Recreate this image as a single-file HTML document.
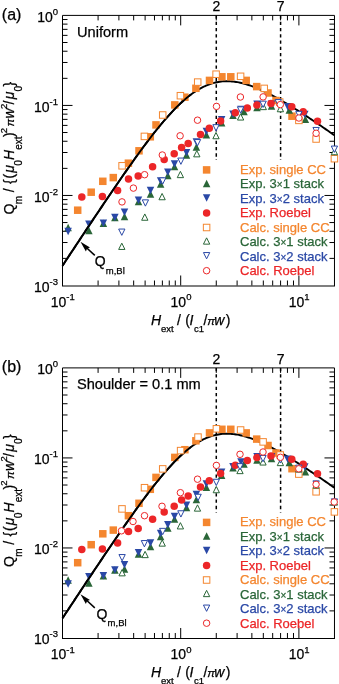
<!DOCTYPE html>
<html><head><meta charset="utf-8"><style>html,body{margin:0;padding:0;background:#fff;width:339px;height:684px;overflow:hidden}svg{display:block;will-change:transform}text{font-family:"Liberation Sans",sans-serif;stroke:currentColor;stroke-width:0.25px}</style></head>
<body><svg width="339" height="684" viewBox="0 0 339 684" font-family="Liberation Sans, sans-serif"><rect width="339" height="684" fill="#fff"/><g transform="translate(0,0)">
<line x1="216.28" y1="15.4" x2="216.28" y2="285.49" stroke="#000" stroke-width="1.5" stroke-dasharray="3.3,2.97"/>
<line x1="280.59" y1="15.4" x2="280.59" y2="285.49" stroke="#000" stroke-width="1.5" stroke-dasharray="3.3,2.97"/>
<rect x="200" y="160" width="134.48" height="125.49" fill="#fff"/>
<path d="M62.5,285.99V15.4H334.48V285.99" fill="none" stroke="#000" stroke-width="1"/>
<path d="M62.0,285.99H334.98" fill="none" stroke="#000" stroke-width="1.2"/>
<path d="M62.5,258.39h5M334.48,258.39h-5M62.5,242.53h5M334.48,242.53h-5M62.5,231.29h5M334.48,231.29h-5M62.5,222.56h5M334.48,222.56h-5M62.5,215.43h5M334.48,215.43h-5M62.5,209.41h5M334.48,209.41h-5M62.5,204.18h5M334.48,204.18h-5M62.5,199.58h5M334.48,199.58h-5M62.5,195.46h10M334.48,195.46h-10M62.5,168.36h5M334.48,168.36h-5M62.5,152.50h5M334.48,152.50h-5M62.5,141.26h5M334.48,141.26h-5M62.5,132.53h5M334.48,132.53h-5M62.5,125.40h5M334.48,125.40h-5M62.5,119.38h5M334.48,119.38h-5M62.5,114.15h5M334.48,114.15h-5M62.5,109.55h5M334.48,109.55h-5M62.5,105.43h10M334.48,105.43h-10M62.5,78.33h5M334.48,78.33h-5M62.5,62.47h5M334.48,62.47h-5M62.5,51.23h5M334.48,51.23h-5M62.5,42.50h5M334.48,42.50h-5M62.5,35.37h5M334.48,35.37h-5M62.5,29.35h5M334.48,29.35h-5M62.5,24.12h5M334.48,24.12h-5M62.5,19.52h5M334.48,19.52h-5M98.08,285.49v-5M98.08,15.4v5M118.90,285.49v-5M118.90,15.4v5M133.66,285.49v-5M133.66,15.4v5M145.12,285.49v-5M145.12,15.4v5M154.48,285.49v-5M154.48,15.4v5M162.39,285.49v-5M162.39,15.4v5M169.25,285.49v-5M169.25,15.4v5M175.29,285.49v-5M175.29,15.4v5M180.70,285.49v-10M180.70,15.4v10M216.28,285.49v-5M216.28,15.4v5M237.10,285.49v-5M237.10,15.4v5M251.86,285.49v-5M251.86,15.4v5M263.32,285.49v-5M263.32,15.4v5M272.68,285.49v-5M272.68,15.4v5M280.59,285.49v-5M280.59,15.4v5M287.45,285.49v-5M287.45,15.4v5M293.49,285.49v-5M293.49,15.4v5M298.90,285.49v-10M298.90,15.4v10" stroke="#000" stroke-width="1" fill="none"/>
<polyline points="62.50,265.73 63.87,263.65 65.23,261.58 66.60,259.51 67.97,257.45 69.33,255.38 70.70,253.31 72.07,251.24 73.43,249.18 74.80,247.11 76.17,245.05 77.53,242.99 78.90,240.93 80.27,238.87 81.63,236.81 83.00,234.75 84.37,232.69 85.73,230.64 87.10,228.58 88.47,226.53 89.83,224.48 91.20,222.43 92.57,220.38 93.94,218.34 95.30,216.29 96.67,214.25 98.04,212.21 99.40,210.17 100.77,208.14 102.14,206.11 103.50,204.08 104.87,202.05 106.24,200.03 107.60,198.01 108.97,195.99 110.34,193.97 111.70,191.96 113.07,189.96 114.44,187.96 115.80,185.96 117.17,183.96 118.54,181.97 119.90,179.99 121.27,178.01 122.64,176.04 124.00,174.07 125.37,172.11 126.74,170.15 128.10,168.20 129.47,166.26 130.84,164.33 132.20,162.40 133.57,160.48 134.94,158.57 136.30,156.67 137.67,154.77 139.04,152.89 140.40,151.02 141.77,149.16 143.14,147.30 144.50,145.46 145.87,143.64 147.24,141.82 148.60,140.02 149.97,138.23 151.34,136.46 152.71,134.70 154.07,132.96 155.44,131.23 156.81,129.52 158.17,127.83 159.54,126.16 160.91,124.50 162.27,122.87 163.64,121.25 165.01,119.66 166.37,118.09 167.74,116.54 169.11,115.02 170.47,113.52 171.84,112.05 173.21,110.60 174.57,109.18 175.94,107.79 177.31,106.42 178.67,105.09 180.04,103.78 181.41,102.51 182.77,101.27 184.14,100.06 185.51,98.88 186.87,97.74 188.24,96.63 189.61,95.56 190.97,94.53 192.34,93.53 193.71,92.56 195.07,91.64 196.44,90.75 197.81,89.91 199.17,89.10 200.54,88.33 201.91,87.60 203.27,86.91 204.64,86.26 206.01,85.65 207.37,85.08 208.74,84.55 210.11,84.06 211.47,83.61 212.84,83.20 214.21,82.83 215.58,82.50 216.94,82.21 218.31,81.95 219.68,81.74 221.04,81.56 222.41,81.42 223.78,81.32 225.14,81.26 226.51,81.23 227.88,81.23 229.24,81.27 230.61,81.34 231.98,81.45 233.34,81.59 234.71,81.76 236.08,81.96 237.44,82.18 238.81,82.44 240.18,82.73 241.54,83.04 242.91,83.38 244.28,83.74 245.64,84.13 247.01,84.55 248.38,84.98 249.74,85.44 251.11,85.92 252.48,86.42 253.84,86.94 255.21,87.48 256.58,88.03 257.94,88.61 259.31,89.20 260.68,89.80 262.04,90.42 263.41,91.06 264.78,91.71 266.14,92.38 267.51,93.06 268.88,93.75 270.24,94.45 271.61,95.16 272.98,95.89 274.35,96.63 275.71,97.37 277.08,98.13 278.45,98.89 279.81,99.67 281.18,100.45 282.55,101.24 283.91,102.04 285.28,102.85 286.65,103.67 288.01,104.49 289.38,105.32 290.75,106.15 292.11,106.99 293.48,107.84 294.85,108.70 296.21,109.56 297.58,110.42 298.95,111.29 300.31,112.17 301.68,113.05 303.05,113.94 304.41,114.83 305.78,115.72 307.15,116.62 308.51,117.53 309.88,118.43 311.25,119.35 312.61,120.26 313.98,121.18 315.35,122.10 316.71,123.03 318.08,123.96 319.45,124.89 320.81,125.83 322.18,126.77 323.55,127.71 324.91,128.65 326.28,129.60 327.65,130.55 329.01,131.50 330.38,132.46 331.75,133.42 333.12,134.38 334.48,135.34" fill="none" stroke="#000" stroke-width="1.9"/>
<rect x="73.95" y="206.45" width="7.5" height="7.5" fill="#f4862f"/>
<rect x="87.45" y="188.45" width="7.5" height="7.5" fill="#f4862f"/>
<rect x="99.05" y="177.55" width="7.5" height="7.5" fill="#f4862f"/>
<rect x="109.55" y="173.85" width="7.5" height="7.5" fill="#f4862f"/>
<rect x="124.65" y="159.45" width="7.5" height="7.5" fill="#f4862f"/>
<rect x="135.25" y="147.05" width="7.5" height="7.5" fill="#f4862f"/>
<rect x="146.55" y="133.05" width="7.5" height="7.5" fill="#f4862f"/>
<rect x="152.25" y="121.15" width="7.5" height="7.5" fill="#f4862f"/>
<rect x="171.05" y="101.15" width="7.5" height="7.5" fill="#f4862f"/>
<rect x="181.15" y="93.45" width="7.5" height="7.5" fill="#f4862f"/>
<rect x="192.15" y="84.55" width="7.5" height="7.5" fill="#f4862f"/>
<rect x="205.75" y="76.65" width="7.5" height="7.5" fill="#f4862f"/>
<rect x="218.15" y="73.05" width="7.5" height="7.5" fill="#f4862f"/>
<rect x="227.05" y="73.05" width="7.5" height="7.5" fill="#f4862f"/>
<rect x="242.45" y="76.65" width="7.5" height="7.5" fill="#f4862f"/>
<rect x="252.95" y="82.85" width="7.5" height="7.5" fill="#f4862f"/>
<rect x="264.25" y="89.25" width="7.5" height="7.5" fill="#f4862f"/>
<rect x="272.25" y="96.75" width="7.5" height="7.5" fill="#f4862f"/>
<rect x="288.25" y="112.45" width="7.5" height="7.5" fill="#f4862f"/>
<path d="M68.10,223.75L71.85,231.25L64.35,231.25Z" fill="#2a6638"/>
<path d="M88.90,226.75L92.65,234.25L85.15,234.25Z" fill="#2a6638"/>
<path d="M103.40,219.45L107.15,226.95L99.65,226.95Z" fill="#2a6638"/>
<path d="M114.90,213.75L118.65,221.25L111.15,221.25Z" fill="#2a6638"/>
<path d="M124.50,212.75L128.25,220.25L120.75,220.25Z" fill="#2a6638"/>
<path d="M138.50,197.75L142.25,205.25L134.75,205.25Z" fill="#2a6638"/>
<path d="M150.50,190.25L154.25,197.75L146.75,197.75Z" fill="#2a6638"/>
<path d="M160.60,180.25L164.35,187.75L156.85,187.75Z" fill="#2a6638"/>
<path d="M167.80,171.75L171.55,179.25L164.05,179.25Z" fill="#2a6638"/>
<path d="M174.50,162.75L178.25,170.25L170.75,170.25Z" fill="#2a6638"/>
<path d="M186.50,151.25L190.25,158.75L182.75,158.75Z" fill="#2a6638"/>
<path d="M196.40,143.25L200.15,150.75L192.65,150.75Z" fill="#2a6638"/>
<path d="M206.40,131.05L210.15,138.55L202.65,138.55Z" fill="#2a6638"/>
<path d="M221.60,119.05L225.35,126.55L217.85,126.55Z" fill="#2a6638"/>
<path d="M233.00,111.55L236.75,119.05L229.25,119.05Z" fill="#2a6638"/>
<path d="M244.00,107.75L247.75,115.25L240.25,115.25Z" fill="#2a6638"/>
<path d="M257.00,103.75L260.75,111.25L253.25,111.25Z" fill="#2a6638"/>
<path d="M271.50,102.25L275.25,109.75L267.75,109.75Z" fill="#2a6638"/>
<path d="M289.30,106.25L293.05,113.75L285.55,113.75Z" fill="#2a6638"/>
<path d="M305.40,115.45L309.15,122.95L301.65,122.95Z" fill="#2a6638"/>
<path d="M68.10,235.25L71.85,227.75L64.35,227.75Z" fill="#2a48a6"/>
<path d="M88.90,227.95L92.65,220.45L85.15,220.45Z" fill="#2a48a6"/>
<path d="M103.40,226.95L107.15,219.45L99.65,219.45Z" fill="#2a48a6"/>
<path d="M114.90,221.25L118.65,213.75L111.15,213.75Z" fill="#2a48a6"/>
<path d="M124.50,216.05L128.25,208.55L120.75,208.55Z" fill="#2a48a6"/>
<path d="M138.50,204.05L142.25,196.55L134.75,196.55Z" fill="#2a48a6"/>
<path d="M150.50,194.25L154.25,186.75L146.75,186.75Z" fill="#2a48a6"/>
<path d="M160.60,184.75L164.35,177.25L156.85,177.25Z" fill="#2a48a6"/>
<path d="M167.80,176.05L171.55,168.55L164.05,168.55Z" fill="#2a48a6"/>
<path d="M174.50,167.75L178.25,160.25L170.75,160.25Z" fill="#2a48a6"/>
<path d="M186.50,156.55L190.25,149.05L182.75,149.05Z" fill="#2a48a6"/>
<path d="M196.40,145.75L200.15,138.25L192.65,138.25Z" fill="#2a48a6"/>
<path d="M206.40,135.25L210.15,127.75L202.65,127.75Z" fill="#2a48a6"/>
<path d="M221.60,123.55L225.35,116.05L217.85,116.05Z" fill="#2a48a6"/>
<path d="M233.00,117.95L236.75,110.45L229.25,110.45Z" fill="#2a48a6"/>
<path d="M241.00,113.25L244.75,105.75L237.25,105.75Z" fill="#2a48a6"/>
<path d="M257.00,108.05L260.75,100.55L253.25,100.55Z" fill="#2a48a6"/>
<path d="M271.50,108.05L275.25,100.55L267.75,100.55Z" fill="#2a48a6"/>
<path d="M287.70,110.55L291.45,103.05L283.95,103.05Z" fill="#2a48a6"/>
<path d="M304.80,118.25L308.55,110.75L301.05,110.75Z" fill="#2a48a6"/>
<circle cx="81.80" cy="197.10" r="3.75" fill="#ec2628"/>
<circle cx="102.40" cy="196.50" r="3.75" fill="#ec2628"/>
<circle cx="117.60" cy="190.60" r="3.75" fill="#ec2628"/>
<circle cx="128.50" cy="179.10" r="3.75" fill="#ec2628"/>
<circle cx="138.20" cy="176.00" r="3.75" fill="#ec2628"/>
<circle cx="152.60" cy="166.70" r="3.75" fill="#ec2628"/>
<circle cx="164.20" cy="159.60" r="3.75" fill="#ec2628"/>
<circle cx="174.20" cy="153.80" r="3.75" fill="#ec2628"/>
<circle cx="181.60" cy="147.40" r="3.75" fill="#ec2628"/>
<circle cx="188.20" cy="143.40" r="3.75" fill="#ec2628"/>
<circle cx="200.50" cy="134.50" r="3.75" fill="#ec2628"/>
<circle cx="209.30" cy="128.30" r="3.75" fill="#ec2628"/>
<circle cx="220.60" cy="120.90" r="3.75" fill="#ec2628"/>
<circle cx="235.30" cy="112.80" r="3.75" fill="#ec2628"/>
<circle cx="247.30" cy="107.90" r="3.75" fill="#ec2628"/>
<circle cx="256.90" cy="105.10" r="3.75" fill="#ec2628"/>
<circle cx="271.00" cy="103.40" r="3.75" fill="#ec2628"/>
<circle cx="291.80" cy="106.70" r="3.75" fill="#ec2628"/>
<circle cx="303.20" cy="111.80" r="3.75" fill="#ec2628"/>
<circle cx="317.50" cy="121.30" r="3.75" fill="#ec2628"/>
<polyline points="62.50,265.73 63.87,263.65 65.23,261.58 66.60,259.51 67.97,257.45 69.33,255.38 70.70,253.31 72.07,251.24 73.43,249.18 74.80,247.11 76.17,245.05 77.53,242.99 78.90,240.93 80.27,238.87 81.63,236.81 83.00,234.75 84.37,232.69 85.73,230.64 87.10,228.58 88.47,226.53 89.83,224.48 91.20,222.43 92.57,220.38 93.94,218.34 95.30,216.29 96.67,214.25 98.04,212.21 99.40,210.17 100.77,208.14 102.14,206.11 103.50,204.08 104.87,202.05 106.24,200.03 107.60,198.01 108.97,195.99 110.34,193.97 111.70,191.96 113.07,189.96 114.44,187.96 115.80,185.96 117.17,183.96 118.54,181.97 119.90,179.99 121.27,178.01 122.64,176.04 124.00,174.07 125.37,172.11 126.74,170.15 128.10,168.20 129.47,166.26 130.84,164.33 132.20,162.40 133.57,160.48 134.94,158.57 136.30,156.67 137.67,154.77 139.04,152.89 140.40,151.02 141.77,149.16 143.14,147.30 144.50,145.46 145.87,143.64 147.24,141.82 148.60,140.02 149.97,138.23 151.34,136.46 152.71,134.70 154.07,132.96 155.44,131.23 156.81,129.52 158.17,127.83 159.54,126.16 160.91,124.50 162.27,122.87 163.64,121.25 165.01,119.66 166.37,118.09 167.74,116.54 169.11,115.02 170.47,113.52 171.84,112.05 173.21,110.60 174.57,109.18 175.94,107.79 177.31,106.42 178.67,105.09 180.04,103.78 181.41,102.51 182.77,101.27 184.14,100.06 185.51,98.88 186.87,97.74 188.24,96.63 189.61,95.56 190.97,94.53" fill="none" stroke="#000" stroke-width="1.9"/>
<rect x="118.85" y="162.55" width="6.5" height="6.5" fill="#fff" stroke="#f4862f" stroke-width="1"/>
<rect x="141.15" y="133.15" width="6.5" height="6.5" fill="#fff" stroke="#f4862f" stroke-width="1"/>
<rect x="159.45" y="111.75" width="6.5" height="6.5" fill="#fff" stroke="#f4862f" stroke-width="1"/>
<rect x="177.15" y="92.45" width="6.5" height="6.5" fill="#fff" stroke="#f4862f" stroke-width="1"/>
<rect x="194.45" y="78.85" width="6.5" height="6.5" fill="#fff" stroke="#f4862f" stroke-width="1"/>
<rect x="212.85" y="70.95" width="6.5" height="6.5" fill="#fff" stroke="#f4862f" stroke-width="1"/>
<rect x="237.35" y="73.05" width="6.5" height="6.5" fill="#fff" stroke="#f4862f" stroke-width="1"/>
<rect x="260.95" y="85.15" width="6.5" height="6.5" fill="#fff" stroke="#f4862f" stroke-width="1"/>
<rect x="276.45" y="98.85" width="6.5" height="6.5" fill="#fff" stroke="#f4862f" stroke-width="1"/>
<rect x="295.65" y="117.15" width="6.5" height="6.5" fill="#fff" stroke="#f4862f" stroke-width="1"/>
<rect x="312.85" y="135.75" width="6.5" height="6.5" fill="#fff" stroke="#f4862f" stroke-width="1"/>
<rect x="331.15" y="155.45" width="6.5" height="6.5" fill="#fff" stroke="#f4862f" stroke-width="1"/>
<path d="M121.80,243.15L124.95,249.45L118.65,249.45Z" fill="#fff" stroke="#2a6638" stroke-width="1"/>
<path d="M144.80,213.95L147.95,220.25L141.65,220.25Z" fill="#fff" stroke="#2a6638" stroke-width="1"/>
<path d="M162.10,193.45L165.25,199.75L158.95,199.75Z" fill="#fff" stroke="#2a6638" stroke-width="1"/>
<path d="M180.40,171.35L183.55,177.65L177.25,177.65Z" fill="#fff" stroke="#2a6638" stroke-width="1"/>
<path d="M196.80,150.55L199.95,156.85L193.65,156.85Z" fill="#fff" stroke="#2a6638" stroke-width="1"/>
<path d="M216.00,132.45L219.15,138.75L212.85,138.75Z" fill="#fff" stroke="#2a6638" stroke-width="1"/>
<path d="M240.60,113.75L243.75,120.05L237.45,120.05Z" fill="#fff" stroke="#2a6638" stroke-width="1"/>
<path d="M263.30,103.35L266.45,109.65L260.15,109.65Z" fill="#fff" stroke="#2a6638" stroke-width="1"/>
<path d="M280.40,105.45L283.55,111.75L277.25,111.75Z" fill="#fff" stroke="#2a6638" stroke-width="1"/>
<path d="M334.40,148.45L337.55,154.75L331.25,154.75Z" fill="#fff" stroke="#2a6638" stroke-width="1"/>
<path d="M121.80,235.35L124.95,229.05L118.65,229.05Z" fill="#fff" stroke="#2a48a6" stroke-width="1"/>
<path d="M145.40,206.15L148.55,199.85L142.25,199.85Z" fill="#fff" stroke="#2a48a6" stroke-width="1"/>
<path d="M162.70,184.15L165.85,177.85L159.55,177.85Z" fill="#fff" stroke="#2a48a6" stroke-width="1"/>
<path d="M180.90,164.35L184.05,158.05L177.75,158.05Z" fill="#fff" stroke="#2a48a6" stroke-width="1"/>
<path d="M197.50,145.85L200.65,139.55L194.35,139.55Z" fill="#fff" stroke="#2a48a6" stroke-width="1"/>
<path d="M216.00,130.95L219.15,124.65L212.85,124.65Z" fill="#fff" stroke="#2a48a6" stroke-width="1"/>
<path d="M240.60,113.15L243.75,106.85L237.45,106.85Z" fill="#fff" stroke="#2a48a6" stroke-width="1"/>
<path d="M263.10,107.45L266.25,101.15L259.95,101.15Z" fill="#fff" stroke="#2a48a6" stroke-width="1"/>
<path d="M278.30,105.85L281.45,99.55L275.15,99.55Z" fill="#fff" stroke="#2a48a6" stroke-width="1"/>
<path d="M298.90,117.65L302.05,111.35L295.75,111.35Z" fill="#fff" stroke="#2a48a6" stroke-width="1"/>
<path d="M316.10,133.75L319.25,127.45L312.95,127.45Z" fill="#fff" stroke="#2a48a6" stroke-width="1"/>
<path d="M334.40,152.35L337.55,146.05L331.25,146.05Z" fill="#fff" stroke="#2a48a6" stroke-width="1"/>
<circle cx="122.00" cy="201.90" r="3.25" fill="#fff" stroke="#ec2628" stroke-width="1"/>
<circle cx="133.40" cy="188.10" r="3.25" fill="#fff" stroke="#ec2628" stroke-width="1"/>
<circle cx="144.60" cy="174.70" r="3.25" fill="#fff" stroke="#ec2628" stroke-width="1"/>
<circle cx="162.30" cy="155.00" r="3.25" fill="#fff" stroke="#ec2628" stroke-width="1"/>
<circle cx="180.10" cy="135.80" r="3.25" fill="#fff" stroke="#ec2628" stroke-width="1"/>
<circle cx="197.50" cy="120.20" r="3.25" fill="#fff" stroke="#ec2628" stroke-width="1"/>
<circle cx="216.50" cy="106.40" r="3.25" fill="#fff" stroke="#ec2628" stroke-width="1"/>
<circle cx="240.40" cy="97.00" r="3.25" fill="#fff" stroke="#ec2628" stroke-width="1"/>
<circle cx="263.10" cy="96.90" r="3.25" fill="#fff" stroke="#ec2628" stroke-width="1"/>
<circle cx="280.30" cy="104.60" r="3.25" fill="#fff" stroke="#ec2628" stroke-width="1"/>
<circle cx="298.90" cy="118.00" r="3.25" fill="#fff" stroke="#ec2628" stroke-width="1"/>
<circle cx="316.10" cy="133.30" r="3.25" fill="#fff" stroke="#ec2628" stroke-width="1"/>
</g><g transform="translate(0,352.5)">
<line x1="216.28" y1="15.4" x2="216.28" y2="285.49" stroke="#000" stroke-width="1.5" stroke-dasharray="3.3,2.97"/>
<line x1="280.59" y1="15.4" x2="280.59" y2="285.49" stroke="#000" stroke-width="1.5" stroke-dasharray="3.3,2.97"/>
<rect x="200" y="160" width="134.48" height="125.49" fill="#fff"/>
<path d="M62.5,285.99V15.4H334.48V285.99" fill="none" stroke="#000" stroke-width="1"/>
<path d="M62.0,285.99H334.98" fill="none" stroke="#000" stroke-width="1.2"/>
<path d="M62.5,258.39h5M334.48,258.39h-5M62.5,242.53h5M334.48,242.53h-5M62.5,231.29h5M334.48,231.29h-5M62.5,222.56h5M334.48,222.56h-5M62.5,215.43h5M334.48,215.43h-5M62.5,209.41h5M334.48,209.41h-5M62.5,204.18h5M334.48,204.18h-5M62.5,199.58h5M334.48,199.58h-5M62.5,195.46h10M334.48,195.46h-10M62.5,168.36h5M334.48,168.36h-5M62.5,152.50h5M334.48,152.50h-5M62.5,141.26h5M334.48,141.26h-5M62.5,132.53h5M334.48,132.53h-5M62.5,125.40h5M334.48,125.40h-5M62.5,119.38h5M334.48,119.38h-5M62.5,114.15h5M334.48,114.15h-5M62.5,109.55h5M334.48,109.55h-5M62.5,105.43h10M334.48,105.43h-10M62.5,78.33h5M334.48,78.33h-5M62.5,62.47h5M334.48,62.47h-5M62.5,51.23h5M334.48,51.23h-5M62.5,42.50h5M334.48,42.50h-5M62.5,35.37h5M334.48,35.37h-5M62.5,29.35h5M334.48,29.35h-5M62.5,24.12h5M334.48,24.12h-5M62.5,19.52h5M334.48,19.52h-5M98.08,285.49v-5M98.08,15.4v5M118.90,285.49v-5M118.90,15.4v5M133.66,285.49v-5M133.66,15.4v5M145.12,285.49v-5M145.12,15.4v5M154.48,285.49v-5M154.48,15.4v5M162.39,285.49v-5M162.39,15.4v5M169.25,285.49v-5M169.25,15.4v5M175.29,285.49v-5M175.29,15.4v5M180.70,285.49v-10M180.70,15.4v10M216.28,285.49v-5M216.28,15.4v5M237.10,285.49v-5M237.10,15.4v5M251.86,285.49v-5M251.86,15.4v5M263.32,285.49v-5M263.32,15.4v5M272.68,285.49v-5M272.68,15.4v5M280.59,285.49v-5M280.59,15.4v5M287.45,285.49v-5M287.45,15.4v5M293.49,285.49v-5M293.49,15.4v5M298.90,285.49v-10M298.90,15.4v10" stroke="#000" stroke-width="1" fill="none"/>
<polyline points="62.50,265.73 63.87,263.65 65.23,261.58 66.60,259.51 67.97,257.45 69.33,255.38 70.70,253.31 72.07,251.24 73.43,249.18 74.80,247.11 76.17,245.05 77.53,242.99 78.90,240.93 80.27,238.87 81.63,236.81 83.00,234.75 84.37,232.69 85.73,230.64 87.10,228.58 88.47,226.53 89.83,224.48 91.20,222.43 92.57,220.38 93.94,218.34 95.30,216.29 96.67,214.25 98.04,212.21 99.40,210.17 100.77,208.14 102.14,206.11 103.50,204.08 104.87,202.05 106.24,200.03 107.60,198.01 108.97,195.99 110.34,193.97 111.70,191.96 113.07,189.96 114.44,187.96 115.80,185.96 117.17,183.96 118.54,181.97 119.90,179.99 121.27,178.01 122.64,176.04 124.00,174.07 125.37,172.11 126.74,170.15 128.10,168.20 129.47,166.26 130.84,164.33 132.20,162.40 133.57,160.48 134.94,158.57 136.30,156.67 137.67,154.77 139.04,152.89 140.40,151.02 141.77,149.16 143.14,147.30 144.50,145.46 145.87,143.64 147.24,141.82 148.60,140.02 149.97,138.23 151.34,136.46 152.71,134.70 154.07,132.96 155.44,131.23 156.81,129.52 158.17,127.83 159.54,126.16 160.91,124.50 162.27,122.87 163.64,121.25 165.01,119.66 166.37,118.09 167.74,116.54 169.11,115.02 170.47,113.52 171.84,112.05 173.21,110.60 174.57,109.18 175.94,107.79 177.31,106.42 178.67,105.09 180.04,103.78 181.41,102.51 182.77,101.27 184.14,100.06 185.51,98.88 186.87,97.74 188.24,96.63 189.61,95.56 190.97,94.53 192.34,93.53 193.71,92.56 195.07,91.64 196.44,90.75 197.81,89.91 199.17,89.10 200.54,88.33 201.91,87.60 203.27,86.91 204.64,86.26 206.01,85.65 207.37,85.08 208.74,84.55 210.11,84.06 211.47,83.61 212.84,83.20 214.21,82.83 215.58,82.50 216.94,82.21 218.31,81.95 219.68,81.74 221.04,81.56 222.41,81.42 223.78,81.32 225.14,81.26 226.51,81.23 227.88,81.23 229.24,81.27 230.61,81.34 231.98,81.45 233.34,81.59 234.71,81.76 236.08,81.96 237.44,82.18 238.81,82.44 240.18,82.73 241.54,83.04 242.91,83.38 244.28,83.74 245.64,84.13 247.01,84.55 248.38,84.98 249.74,85.44 251.11,85.92 252.48,86.42 253.84,86.94 255.21,87.48 256.58,88.03 257.94,88.61 259.31,89.20 260.68,89.80 262.04,90.42 263.41,91.06 264.78,91.71 266.14,92.38 267.51,93.06 268.88,93.75 270.24,94.45 271.61,95.16 272.98,95.89 274.35,96.63 275.71,97.37 277.08,98.13 278.45,98.89 279.81,99.67 281.18,100.45 282.55,101.24 283.91,102.04 285.28,102.85 286.65,103.67 288.01,104.49 289.38,105.32 290.75,106.15 292.11,106.99 293.48,107.84 294.85,108.70 296.21,109.56 297.58,110.42 298.95,111.29 300.31,112.17 301.68,113.05 303.05,113.94 304.41,114.83 305.78,115.72 307.15,116.62 308.51,117.53 309.88,118.43 311.25,119.35 312.61,120.26 313.98,121.18 315.35,122.10 316.71,123.03 318.08,123.96 319.45,124.89 320.81,125.83 322.18,126.77 323.55,127.71 324.91,128.65 326.28,129.60 327.65,130.55 329.01,131.50 330.38,132.46 331.75,133.42 333.12,134.38 334.48,135.34" fill="none" stroke="#000" stroke-width="1.9"/>
<rect x="73.95" y="206.45" width="7.5" height="7.5" fill="#f4862f"/>
<rect x="87.45" y="188.45" width="7.5" height="7.5" fill="#f4862f"/>
<rect x="99.05" y="177.55" width="7.5" height="7.5" fill="#f4862f"/>
<rect x="109.55" y="173.85" width="7.5" height="7.5" fill="#f4862f"/>
<rect x="124.65" y="159.45" width="7.5" height="7.5" fill="#f4862f"/>
<rect x="135.25" y="147.05" width="7.5" height="7.5" fill="#f4862f"/>
<rect x="146.55" y="133.05" width="7.5" height="7.5" fill="#f4862f"/>
<rect x="152.25" y="121.15" width="7.5" height="7.5" fill="#f4862f"/>
<rect x="171.05" y="101.15" width="7.5" height="7.5" fill="#f4862f"/>
<rect x="181.15" y="93.45" width="7.5" height="7.5" fill="#f4862f"/>
<rect x="192.15" y="84.55" width="7.5" height="7.5" fill="#f4862f"/>
<rect x="205.75" y="76.65" width="7.5" height="7.5" fill="#f4862f"/>
<rect x="218.15" y="73.05" width="7.5" height="7.5" fill="#f4862f"/>
<rect x="227.05" y="73.05" width="7.5" height="7.5" fill="#f4862f"/>
<rect x="242.45" y="76.65" width="7.5" height="7.5" fill="#f4862f"/>
<rect x="252.95" y="82.85" width="7.5" height="7.5" fill="#f4862f"/>
<rect x="264.25" y="89.25" width="7.5" height="7.5" fill="#f4862f"/>
<rect x="272.25" y="96.75" width="7.5" height="7.5" fill="#f4862f"/>
<rect x="288.25" y="112.45" width="7.5" height="7.5" fill="#f4862f"/>
<path d="M68.10,223.75L71.85,231.25L64.35,231.25Z" fill="#2a6638"/>
<path d="M88.90,226.75L92.65,234.25L85.15,234.25Z" fill="#2a6638"/>
<path d="M103.40,219.45L107.15,226.95L99.65,226.95Z" fill="#2a6638"/>
<path d="M114.90,213.75L118.65,221.25L111.15,221.25Z" fill="#2a6638"/>
<path d="M124.50,212.75L128.25,220.25L120.75,220.25Z" fill="#2a6638"/>
<path d="M138.50,197.75L142.25,205.25L134.75,205.25Z" fill="#2a6638"/>
<path d="M150.50,190.25L154.25,197.75L146.75,197.75Z" fill="#2a6638"/>
<path d="M160.60,180.25L164.35,187.75L156.85,187.75Z" fill="#2a6638"/>
<path d="M167.80,171.75L171.55,179.25L164.05,179.25Z" fill="#2a6638"/>
<path d="M174.50,162.75L178.25,170.25L170.75,170.25Z" fill="#2a6638"/>
<path d="M186.50,151.25L190.25,158.75L182.75,158.75Z" fill="#2a6638"/>
<path d="M196.40,143.25L200.15,150.75L192.65,150.75Z" fill="#2a6638"/>
<path d="M206.40,131.05L210.15,138.55L202.65,138.55Z" fill="#2a6638"/>
<path d="M221.60,119.05L225.35,126.55L217.85,126.55Z" fill="#2a6638"/>
<path d="M233.00,111.55L236.75,119.05L229.25,119.05Z" fill="#2a6638"/>
<path d="M244.00,107.75L247.75,115.25L240.25,115.25Z" fill="#2a6638"/>
<path d="M257.00,103.75L260.75,111.25L253.25,111.25Z" fill="#2a6638"/>
<path d="M271.50,102.25L275.25,109.75L267.75,109.75Z" fill="#2a6638"/>
<path d="M289.30,106.25L293.05,113.75L285.55,113.75Z" fill="#2a6638"/>
<path d="M305.40,115.45L309.15,122.95L301.65,122.95Z" fill="#2a6638"/>
<path d="M68.10,235.25L71.85,227.75L64.35,227.75Z" fill="#2a48a6"/>
<path d="M88.90,227.95L92.65,220.45L85.15,220.45Z" fill="#2a48a6"/>
<path d="M103.40,226.95L107.15,219.45L99.65,219.45Z" fill="#2a48a6"/>
<path d="M114.90,221.25L118.65,213.75L111.15,213.75Z" fill="#2a48a6"/>
<path d="M124.50,216.05L128.25,208.55L120.75,208.55Z" fill="#2a48a6"/>
<path d="M138.50,204.05L142.25,196.55L134.75,196.55Z" fill="#2a48a6"/>
<path d="M150.50,194.25L154.25,186.75L146.75,186.75Z" fill="#2a48a6"/>
<path d="M160.60,184.75L164.35,177.25L156.85,177.25Z" fill="#2a48a6"/>
<path d="M167.80,176.05L171.55,168.55L164.05,168.55Z" fill="#2a48a6"/>
<path d="M174.50,167.75L178.25,160.25L170.75,160.25Z" fill="#2a48a6"/>
<path d="M186.50,156.55L190.25,149.05L182.75,149.05Z" fill="#2a48a6"/>
<path d="M196.40,145.75L200.15,138.25L192.65,138.25Z" fill="#2a48a6"/>
<path d="M206.40,135.25L210.15,127.75L202.65,127.75Z" fill="#2a48a6"/>
<path d="M221.60,123.55L225.35,116.05L217.85,116.05Z" fill="#2a48a6"/>
<path d="M233.00,117.95L236.75,110.45L229.25,110.45Z" fill="#2a48a6"/>
<path d="M241.00,113.25L244.75,105.75L237.25,105.75Z" fill="#2a48a6"/>
<path d="M257.00,108.05L260.75,100.55L253.25,100.55Z" fill="#2a48a6"/>
<path d="M271.50,108.05L275.25,100.55L267.75,100.55Z" fill="#2a48a6"/>
<path d="M287.70,110.55L291.45,103.05L283.95,103.05Z" fill="#2a48a6"/>
<path d="M304.80,118.25L308.55,110.75L301.05,110.75Z" fill="#2a48a6"/>
<circle cx="81.80" cy="197.10" r="3.75" fill="#ec2628"/>
<circle cx="102.40" cy="196.50" r="3.75" fill="#ec2628"/>
<circle cx="117.60" cy="190.60" r="3.75" fill="#ec2628"/>
<circle cx="128.50" cy="179.10" r="3.75" fill="#ec2628"/>
<circle cx="138.20" cy="176.00" r="3.75" fill="#ec2628"/>
<circle cx="152.60" cy="166.70" r="3.75" fill="#ec2628"/>
<circle cx="164.20" cy="159.60" r="3.75" fill="#ec2628"/>
<circle cx="174.20" cy="153.80" r="3.75" fill="#ec2628"/>
<circle cx="181.60" cy="147.40" r="3.75" fill="#ec2628"/>
<circle cx="188.20" cy="143.40" r="3.75" fill="#ec2628"/>
<circle cx="200.50" cy="134.50" r="3.75" fill="#ec2628"/>
<circle cx="209.30" cy="128.30" r="3.75" fill="#ec2628"/>
<circle cx="220.60" cy="120.90" r="3.75" fill="#ec2628"/>
<circle cx="235.30" cy="112.80" r="3.75" fill="#ec2628"/>
<circle cx="247.30" cy="107.90" r="3.75" fill="#ec2628"/>
<circle cx="256.90" cy="105.10" r="3.75" fill="#ec2628"/>
<circle cx="271.00" cy="103.40" r="3.75" fill="#ec2628"/>
<circle cx="291.80" cy="106.70" r="3.75" fill="#ec2628"/>
<circle cx="303.20" cy="111.80" r="3.75" fill="#ec2628"/>
<circle cx="317.50" cy="121.30" r="3.75" fill="#ec2628"/>
<polyline points="62.50,265.73 63.87,263.65 65.23,261.58 66.60,259.51 67.97,257.45 69.33,255.38 70.70,253.31 72.07,251.24 73.43,249.18 74.80,247.11 76.17,245.05 77.53,242.99 78.90,240.93 80.27,238.87 81.63,236.81 83.00,234.75 84.37,232.69 85.73,230.64 87.10,228.58 88.47,226.53 89.83,224.48 91.20,222.43 92.57,220.38 93.94,218.34 95.30,216.29 96.67,214.25 98.04,212.21 99.40,210.17 100.77,208.14 102.14,206.11 103.50,204.08 104.87,202.05 106.24,200.03 107.60,198.01 108.97,195.99 110.34,193.97 111.70,191.96 113.07,189.96 114.44,187.96 115.80,185.96 117.17,183.96 118.54,181.97 119.90,179.99 121.27,178.01 122.64,176.04 124.00,174.07 125.37,172.11 126.74,170.15 128.10,168.20 129.47,166.26 130.84,164.33 132.20,162.40 133.57,160.48 134.94,158.57 136.30,156.67 137.67,154.77 139.04,152.89 140.40,151.02 141.77,149.16 143.14,147.30 144.50,145.46 145.87,143.64 147.24,141.82 148.60,140.02 149.97,138.23 151.34,136.46 152.71,134.70 154.07,132.96 155.44,131.23 156.81,129.52 158.17,127.83 159.54,126.16 160.91,124.50 162.27,122.87 163.64,121.25 165.01,119.66 166.37,118.09 167.74,116.54 169.11,115.02 170.47,113.52 171.84,112.05 173.21,110.60 174.57,109.18 175.94,107.79 177.31,106.42 178.67,105.09 180.04,103.78 181.41,102.51 182.77,101.27 184.14,100.06 185.51,98.88 186.87,97.74 188.24,96.63 189.61,95.56 190.97,94.53" fill="none" stroke="#000" stroke-width="1.9"/>
<rect x="118.75" y="153.15" width="6.5" height="6.5" fill="#fff" stroke="#f4862f" stroke-width="1"/>
<rect x="141.25" y="131.95" width="6.5" height="6.5" fill="#fff" stroke="#f4862f" stroke-width="1"/>
<rect x="159.45" y="113.15" width="6.5" height="6.5" fill="#fff" stroke="#f4862f" stroke-width="1"/>
<rect x="177.35" y="94.85" width="6.5" height="6.5" fill="#fff" stroke="#f4862f" stroke-width="1"/>
<rect x="194.75" y="81.35" width="6.5" height="6.5" fill="#fff" stroke="#f4862f" stroke-width="1"/>
<rect x="213.15" y="73.05" width="6.5" height="6.5" fill="#fff" stroke="#f4862f" stroke-width="1"/>
<rect x="237.35" y="74.25" width="6.5" height="6.5" fill="#fff" stroke="#f4862f" stroke-width="1"/>
<rect x="259.85" y="86.15" width="6.5" height="6.5" fill="#fff" stroke="#f4862f" stroke-width="1"/>
<rect x="276.95" y="99.25" width="6.5" height="6.5" fill="#fff" stroke="#f4862f" stroke-width="1"/>
<rect x="295.55" y="118.35" width="6.5" height="6.5" fill="#fff" stroke="#f4862f" stroke-width="1"/>
<rect x="312.85" y="136.05" width="6.5" height="6.5" fill="#fff" stroke="#f4862f" stroke-width="1"/>
<rect x="331.15" y="156.15" width="6.5" height="6.5" fill="#fff" stroke="#f4862f" stroke-width="1"/>
<path d="M122.10,217.05L125.25,223.35L118.95,223.35Z" fill="#fff" stroke="#2a6638" stroke-width="1"/>
<path d="M145.10,198.85L148.25,205.15L141.95,205.15Z" fill="#fff" stroke="#2a6638" stroke-width="1"/>
<path d="M162.20,187.35L165.35,193.65L159.05,193.65Z" fill="#fff" stroke="#2a6638" stroke-width="1"/>
<path d="M180.40,170.15L183.55,176.45L177.25,176.45Z" fill="#fff" stroke="#2a6638" stroke-width="1"/>
<path d="M197.50,152.35L200.65,158.65L194.35,158.65Z" fill="#fff" stroke="#2a6638" stroke-width="1"/>
<path d="M216.30,133.95L219.45,140.25L213.15,140.25Z" fill="#fff" stroke="#2a6638" stroke-width="1"/>
<path d="M240.00,114.85L243.15,121.15L236.85,121.15Z" fill="#fff" stroke="#2a6638" stroke-width="1"/>
<path d="M263.00,106.25L266.15,112.55L259.85,112.55Z" fill="#fff" stroke="#2a6638" stroke-width="1"/>
<path d="M280.40,106.85L283.55,113.15L277.25,113.15Z" fill="#fff" stroke="#2a6638" stroke-width="1"/>
<path d="M298.80,113.35L301.95,119.65L295.65,119.65Z" fill="#fff" stroke="#2a6638" stroke-width="1"/>
<path d="M316.10,129.35L319.25,135.65L312.95,135.65Z" fill="#fff" stroke="#2a6638" stroke-width="1"/>
<path d="M334.40,146.35L337.55,152.65L331.25,152.65Z" fill="#fff" stroke="#2a6638" stroke-width="1"/>
<path d="M122.10,208.35L125.25,202.05L118.95,202.05Z" fill="#fff" stroke="#2a48a6" stroke-width="1"/>
<path d="M144.40,194.35L147.55,188.05L141.25,188.05Z" fill="#fff" stroke="#2a48a6" stroke-width="1"/>
<path d="M162.70,182.15L165.85,175.85L159.55,175.85Z" fill="#fff" stroke="#2a48a6" stroke-width="1"/>
<path d="M180.90,164.55L184.05,158.25L177.75,158.25Z" fill="#fff" stroke="#2a48a6" stroke-width="1"/>
<path d="M198.10,148.05L201.25,141.75L194.95,141.75Z" fill="#fff" stroke="#2a48a6" stroke-width="1"/>
<path d="M216.30,133.05L219.45,126.75L213.15,126.75Z" fill="#fff" stroke="#2a48a6" stroke-width="1"/>
<path d="M240.00,117.45L243.15,111.15L236.85,111.15Z" fill="#fff" stroke="#2a48a6" stroke-width="1"/>
<path d="M263.00,109.25L266.15,102.95L259.85,102.95Z" fill="#fff" stroke="#2a48a6" stroke-width="1"/>
<path d="M280.40,110.55L283.55,104.25L277.25,104.25Z" fill="#fff" stroke="#2a48a6" stroke-width="1"/>
<path d="M298.80,118.95L301.95,112.65L295.65,112.65Z" fill="#fff" stroke="#2a48a6" stroke-width="1"/>
<path d="M316.10,134.65L319.25,128.35L312.95,128.35Z" fill="#fff" stroke="#2a48a6" stroke-width="1"/>
<path d="M334.40,152.65L337.55,146.35L331.25,146.35Z" fill="#fff" stroke="#2a48a6" stroke-width="1"/>
<circle cx="121.50" cy="178.30" r="3.25" fill="#fff" stroke="#ec2628" stroke-width="1"/>
<circle cx="133.00" cy="169.00" r="3.25" fill="#fff" stroke="#ec2628" stroke-width="1"/>
<circle cx="144.50" cy="163.20" r="3.25" fill="#fff" stroke="#ec2628" stroke-width="1"/>
<circle cx="162.00" cy="153.80" r="3.25" fill="#fff" stroke="#ec2628" stroke-width="1"/>
<circle cx="180.40" cy="140.20" r="3.25" fill="#fff" stroke="#ec2628" stroke-width="1"/>
<circle cx="197.50" cy="126.70" r="3.25" fill="#fff" stroke="#ec2628" stroke-width="1"/>
<circle cx="216.40" cy="112.90" r="3.25" fill="#fff" stroke="#ec2628" stroke-width="1"/>
<circle cx="240.00" cy="101.80" r="3.25" fill="#fff" stroke="#ec2628" stroke-width="1"/>
<circle cx="263.00" cy="99.50" r="3.25" fill="#fff" stroke="#ec2628" stroke-width="1"/>
<circle cx="280.40" cy="104.80" r="3.25" fill="#fff" stroke="#ec2628" stroke-width="1"/>
<circle cx="298.80" cy="116.30" r="3.25" fill="#fff" stroke="#ec2628" stroke-width="1"/>
<circle cx="316.10" cy="131.90" r="3.25" fill="#fff" stroke="#ec2628" stroke-width="1"/>
<circle cx="334.20" cy="149.50" r="3.25" fill="#fff" stroke="#ec2628" stroke-width="1"/>
</g><g transform="translate(0,0)"><rect x="202.85" y="166.15" width="7.5" height="7.5" fill="#f4862f"/>
<text x="240" y="173.60" fill="#f4862f" color="#f4862f" font-size="13">Exp. single CC</text>
<path d="M206.60,179.65L210.35,187.15L202.85,187.15Z" fill="#2a6638"/>
<text x="240" y="188.10" fill="#2a6638" color="#2a6638" font-size="13">Exp. 3<tspan font-size='10'>×</tspan>1 stack</text>
<path d="M206.60,201.85L210.35,194.35L202.85,194.35Z" fill="#2a48a6"/>
<text x="240" y="202.60" fill="#2a48a6" color="#2a48a6" font-size="13">Exp. 3<tspan font-size='10'>×</tspan>2 stack</text>
<circle cx="206.60" cy="213.10" r="3.75" fill="#ec2628"/>
<text x="240" y="217.10" fill="#ec2628" color="#ec2628" font-size="13">Exp. Roebel</text>
<rect x="203.35" y="224.25" width="6.5" height="6.5" fill="#fff" stroke="#f4862f" stroke-width="1"/>
<text x="240" y="231.60" fill="#f4862f" color="#f4862f" font-size="13">Calc. single CC</text>
<path d="M206.60,237.85L209.75,244.15L203.45,244.15Z" fill="#fff" stroke="#2a6638" stroke-width="1"/>
<text x="240" y="246.10" fill="#2a6638" color="#2a6638" font-size="13">Calc. 3<tspan font-size='10'>×</tspan>1 stack</text>
<path d="M206.60,258.85L209.75,252.55L203.45,252.55Z" fill="#fff" stroke="#2a48a6" stroke-width="1"/>
<text x="240" y="260.60" fill="#2a48a6" color="#2a48a6" font-size="13">Calc. 3<tspan font-size='10'>×</tspan>2 stack</text>
<circle cx="206.60" cy="270.70" r="3.25" fill="#fff" stroke="#ec2628" stroke-width="1"/>
<text x="240" y="275.10" fill="#ec2628" color="#ec2628" font-size="13">Calc. Roebel</text></g><g transform="translate(0,352.5)"><rect x="202.85" y="166.15" width="7.5" height="7.5" fill="#f4862f"/>
<text x="240" y="173.60" fill="#f4862f" color="#f4862f" font-size="13">Exp. single CC</text>
<path d="M206.60,179.65L210.35,187.15L202.85,187.15Z" fill="#2a6638"/>
<text x="240" y="188.10" fill="#2a6638" color="#2a6638" font-size="13">Exp. 3<tspan font-size='10'>×</tspan>1 stack</text>
<path d="M206.60,201.85L210.35,194.35L202.85,194.35Z" fill="#2a48a6"/>
<text x="240" y="202.60" fill="#2a48a6" color="#2a48a6" font-size="13">Exp. 3<tspan font-size='10'>×</tspan>2 stack</text>
<circle cx="206.60" cy="213.10" r="3.75" fill="#ec2628"/>
<text x="240" y="217.10" fill="#ec2628" color="#ec2628" font-size="13">Exp. Roebel</text>
<rect x="203.35" y="224.25" width="6.5" height="6.5" fill="#fff" stroke="#f4862f" stroke-width="1"/>
<text x="240" y="231.60" fill="#f4862f" color="#f4862f" font-size="13">Calc. single CC</text>
<path d="M206.60,237.85L209.75,244.15L203.45,244.15Z" fill="#fff" stroke="#2a6638" stroke-width="1"/>
<text x="240" y="246.10" fill="#2a6638" color="#2a6638" font-size="13">Calc. 3<tspan font-size='10'>×</tspan>1 stack</text>
<path d="M206.60,258.85L209.75,252.55L203.45,252.55Z" fill="#fff" stroke="#2a48a6" stroke-width="1"/>
<text x="240" y="260.60" fill="#2a48a6" color="#2a48a6" font-size="13">Calc. 3<tspan font-size='10'>×</tspan>2 stack</text>
<circle cx="206.60" cy="270.70" r="3.25" fill="#fff" stroke="#ec2628" stroke-width="1"/>
<text x="240" y="275.10" fill="#ec2628" color="#ec2628" font-size="13">Calc. Roebel</text></g><g transform="translate(0,0)"><text x="1.8" y="19.6" font-size="16">(a)</text>
<text x="77.0" y="36.5" font-size="14.6">Uniform</text>
<text x="58" y="21.80" font-size="14" text-anchor="end">10<tspan font-size="9.5" dy="-7.2">0</tspan></text>
<text x="58" y="111.83" font-size="14" text-anchor="end">10<tspan font-size="9.5" dy="-7.2">-1</tspan></text>
<text x="58" y="201.86" font-size="14" text-anchor="end">10<tspan font-size="9.5" dy="-7.2">-2</tspan></text>
<text x="58" y="291.89" font-size="14" text-anchor="end">10<tspan font-size="9.5" dy="-7.2">-3</tspan></text>
<text x="62.80" y="306.5" font-size="14" text-anchor="middle">10<tspan font-size="9.5" dy="-6.2">-1</tspan></text>
<text x="181.00" y="306.5" font-size="14" text-anchor="middle">10<tspan font-size="9.5" dy="-6.2">0</tspan></text>
<text x="299.20" y="306.5" font-size="14" text-anchor="middle">10<tspan font-size="9.5" dy="-6.2">1</tspan></text>
<text x="216.28" y="11" font-size="14" text-anchor="middle">2</text>
<text x="280.59" y="11" font-size="14" text-anchor="middle">7</text>
<text x="151" y="324.5" font-size="14" font-style="italic">H</text>
<text x="161" y="331.6" font-size="9.5">ext</text>
<text x="177" y="324.5" font-size="14">/</text>
<text x="185.3" y="324.5" font-size="14">(</text>
<text x="189.4" y="324.5" font-size="14" font-style="italic">I</text>
<text x="194.0" y="331.6" font-size="9.5">c1</text>
<text x="203.5" y="324.5" font-size="14">/</text>
<text x="207.2" y="324.5" font-size="11.5" font-style="italic">π</text>
<text x="214.2" y="324.5" font-size="14" font-style="italic">w</text>
<text x="225.8" y="324.5" font-size="14">)</text>
<g transform="rotate(-90)"><text x="-214.5" y="14.0" font-size="14">Q</text><text x="-204.3" y="21.8" font-size="10">m</text><text x="-192.2" y="14.0" font-size="14">/</text><text x="-184.0" y="14.0" font-size="14">{</text><text x="-178.4" y="14.0" font-size="14">(</text><text x="-172.8" y="14.0" font-size="14" font-style="italic">μ</text><text x="-165.8" y="21.8" font-size="10.2">0</text><text x="-160.0" y="14.0" font-size="14" font-style="italic">H</text><text x="-149.8" y="21.8" font-size="10">ext</text><text x="-137.0" y="14.0" font-size="14">)</text><text x="-133.2" y="7.0" font-size="9.5">2</text><text x="-126.6" y="14.0" font-size="11.5" font-style="italic">π</text><text x="-118.6" y="14.0" font-size="14" font-style="italic">w</text><text x="-109.0" y="7.0" font-size="9.5">2</text><text x="-104.4" y="14.0" font-size="14">/</text><text x="-99.2" y="14.0" font-size="14" font-style="italic">μ</text><text x="-91.5" y="21.8" font-size="10.2">0</text><text x="-86.4" y="14.0" font-size="14">}</text></g>
<text x="94.8" y="266.4" font-size="14">Q</text>
<text x="105.8" y="273.6" font-size="9.5">m,Bl</text>
<path d="M94.8,255.4L86,247.2" stroke="#000" stroke-width="1.5"/><path d="M80.5,241.8L90.0,247.5L87.1,248.6L85.9,251.4Z" fill="#000"/></g><g transform="translate(0,352.5)"><text x="1.8" y="19.6" font-size="16">(b)</text>
<text x="77.0" y="36.5" font-size="14.6">Shoulder = 0.1 mm</text>
<text x="58" y="21.80" font-size="14" text-anchor="end">10<tspan font-size="9.5" dy="-7.2">0</tspan></text>
<text x="58" y="111.83" font-size="14" text-anchor="end">10<tspan font-size="9.5" dy="-7.2">-1</tspan></text>
<text x="58" y="201.86" font-size="14" text-anchor="end">10<tspan font-size="9.5" dy="-7.2">-2</tspan></text>
<text x="58" y="291.89" font-size="14" text-anchor="end">10<tspan font-size="9.5" dy="-7.2">-3</tspan></text>
<text x="62.80" y="306.5" font-size="14" text-anchor="middle">10<tspan font-size="9.5" dy="-6.2">-1</tspan></text>
<text x="181.00" y="306.5" font-size="14" text-anchor="middle">10<tspan font-size="9.5" dy="-6.2">0</tspan></text>
<text x="299.20" y="306.5" font-size="14" text-anchor="middle">10<tspan font-size="9.5" dy="-6.2">1</tspan></text>
<text x="216.28" y="11" font-size="14" text-anchor="middle">2</text>
<text x="280.59" y="11" font-size="14" text-anchor="middle">7</text>
<text x="151" y="324.5" font-size="14" font-style="italic">H</text>
<text x="161" y="331.6" font-size="9.5">ext</text>
<text x="177" y="324.5" font-size="14">/</text>
<text x="185.3" y="324.5" font-size="14">(</text>
<text x="189.4" y="324.5" font-size="14" font-style="italic">I</text>
<text x="194.0" y="331.6" font-size="9.5">c1</text>
<text x="203.5" y="324.5" font-size="14">/</text>
<text x="207.2" y="324.5" font-size="11.5" font-style="italic">π</text>
<text x="214.2" y="324.5" font-size="14" font-style="italic">w</text>
<text x="225.8" y="324.5" font-size="14">)</text>
<g transform="rotate(-90)"><text x="-214.5" y="14.0" font-size="14">Q</text><text x="-204.3" y="21.8" font-size="10">m</text><text x="-192.2" y="14.0" font-size="14">/</text><text x="-184.0" y="14.0" font-size="14">{</text><text x="-178.4" y="14.0" font-size="14">(</text><text x="-172.8" y="14.0" font-size="14" font-style="italic">μ</text><text x="-165.8" y="21.8" font-size="10.2">0</text><text x="-160.0" y="14.0" font-size="14" font-style="italic">H</text><text x="-149.8" y="21.8" font-size="10">ext</text><text x="-137.0" y="14.0" font-size="14">)</text><text x="-133.2" y="7.0" font-size="9.5">2</text><text x="-126.6" y="14.0" font-size="11.5" font-style="italic">π</text><text x="-118.6" y="14.0" font-size="14" font-style="italic">w</text><text x="-109.0" y="7.0" font-size="9.5">2</text><text x="-104.4" y="14.0" font-size="14">/</text><text x="-99.2" y="14.0" font-size="14" font-style="italic">μ</text><text x="-91.5" y="21.8" font-size="10.2">0</text><text x="-86.4" y="14.0" font-size="14">}</text></g>
<text x="96.6" y="266.4" font-size="14">Q</text>
<text x="107.6" y="273.6" font-size="9.5">m,Bl</text>
<path d="M94.8,255.4L86,247.2" stroke="#000" stroke-width="1.5"/><path d="M80.5,241.8L90.0,247.5L87.1,248.6L85.9,251.4Z" fill="#000"/></g></svg></body></html>
